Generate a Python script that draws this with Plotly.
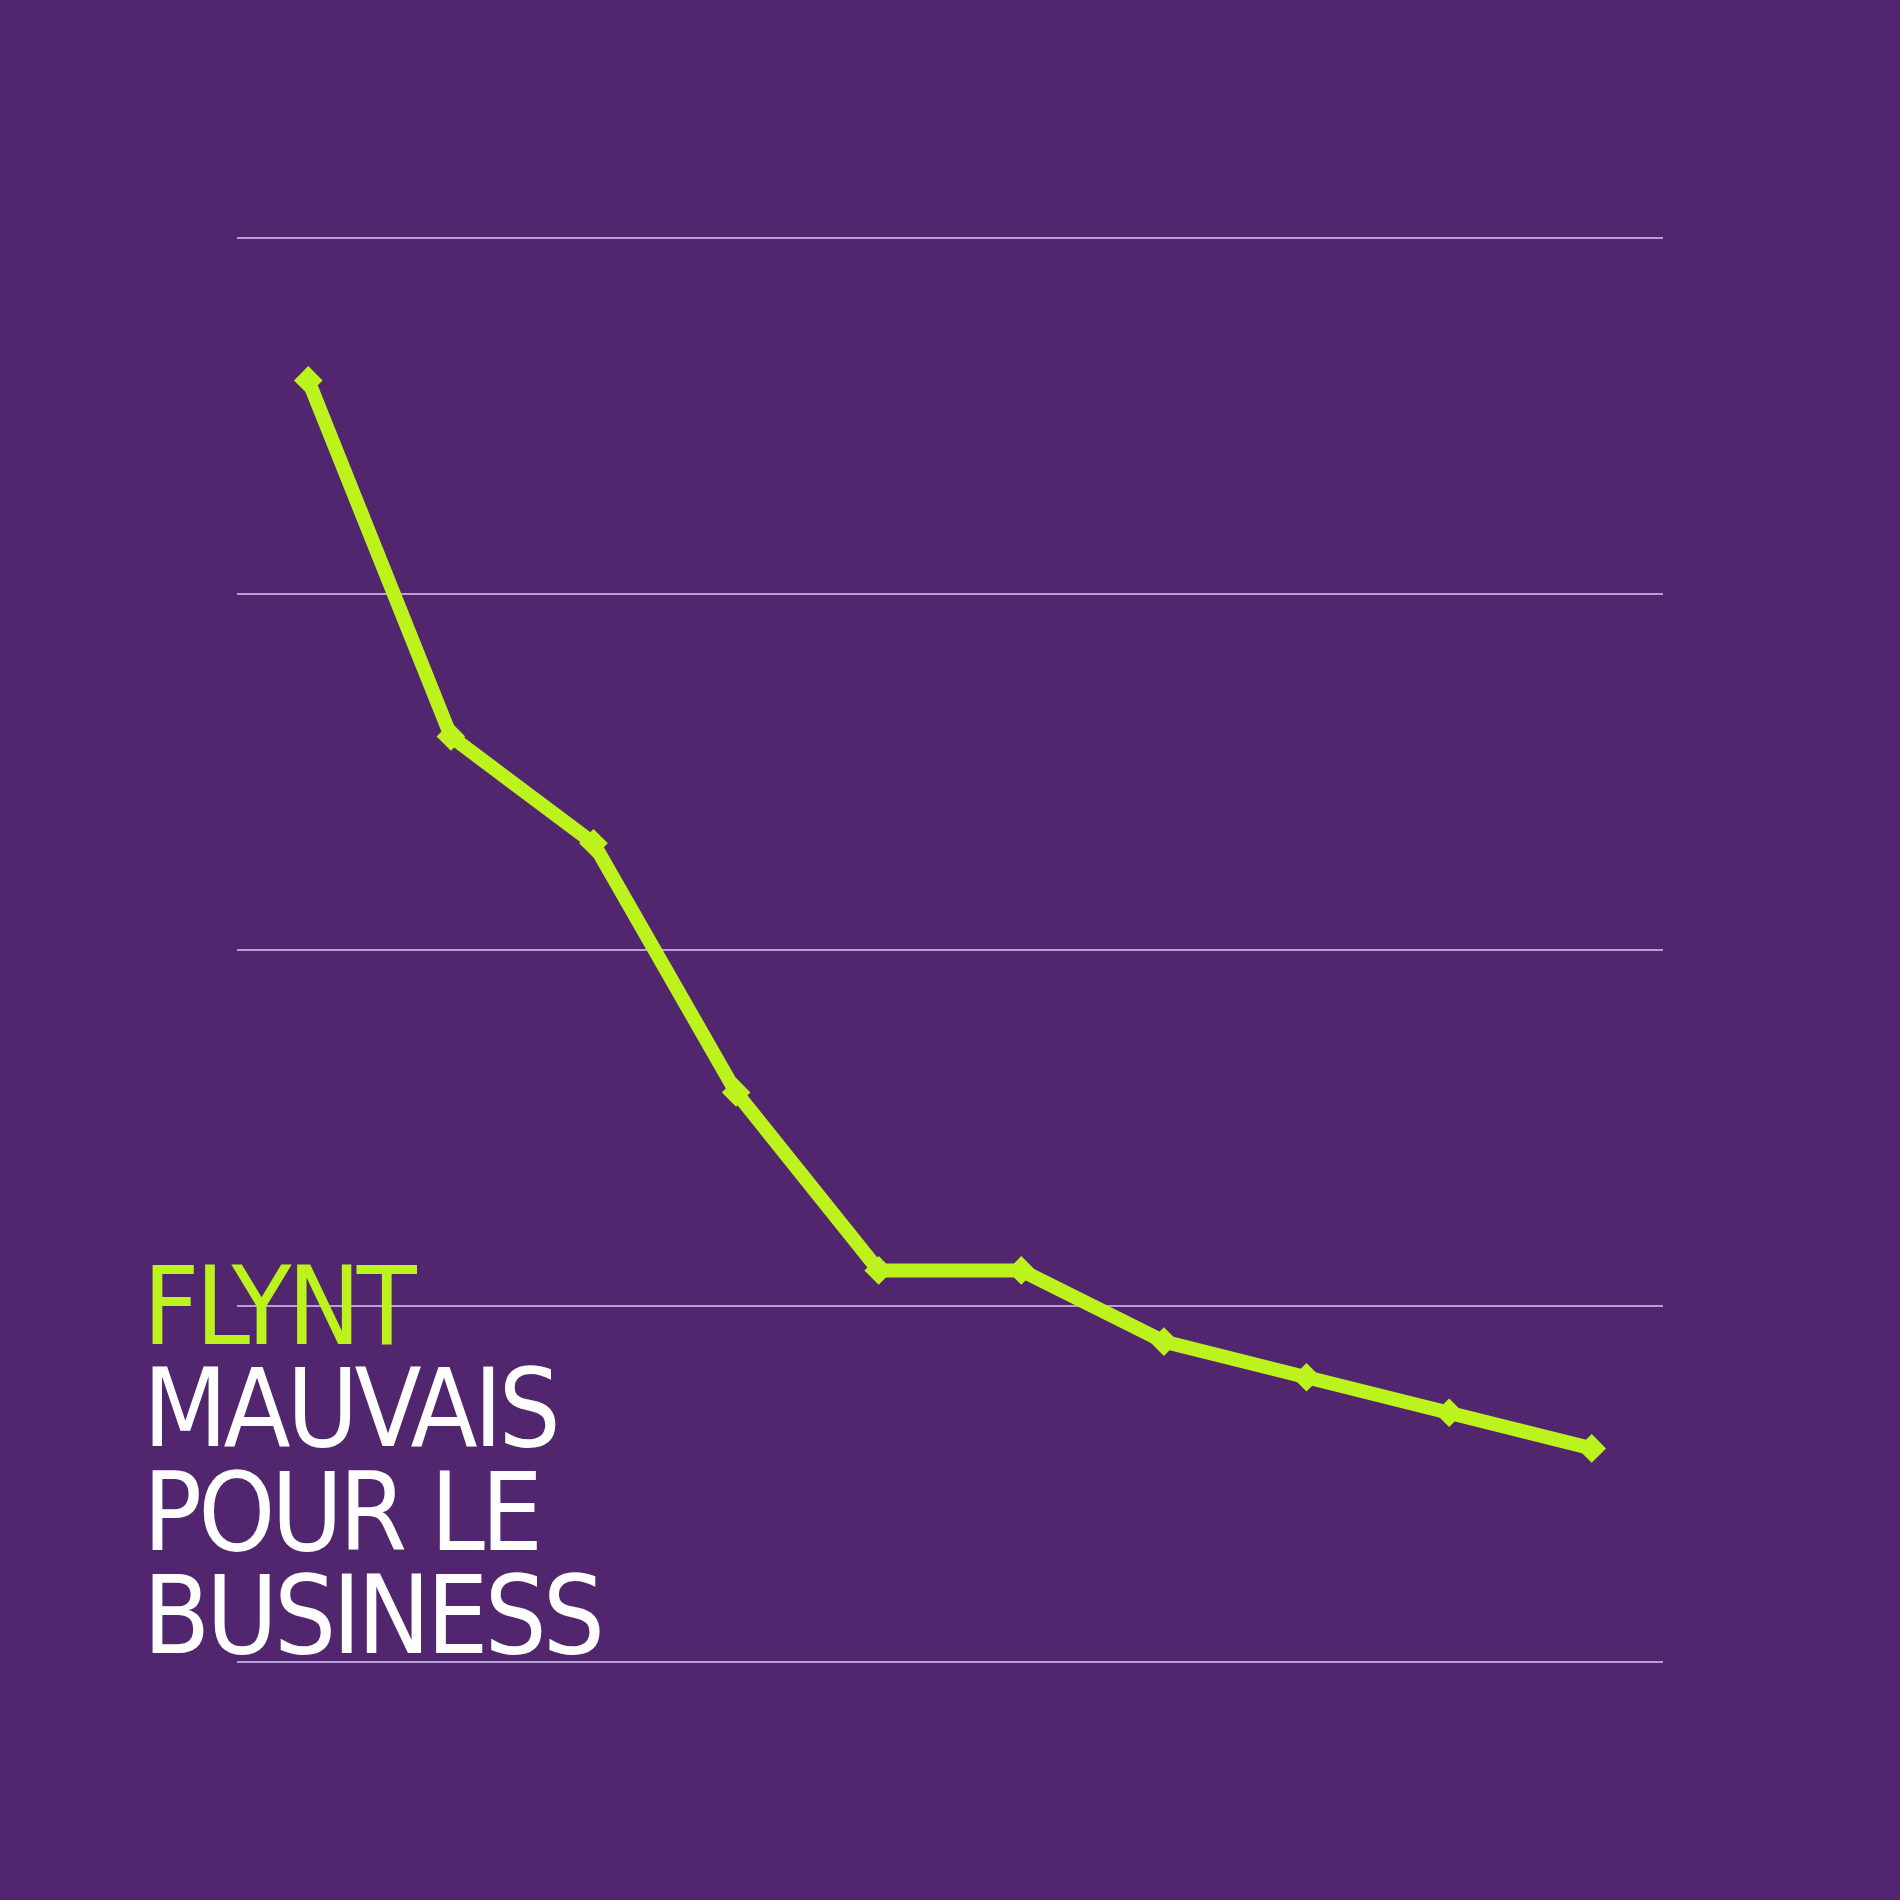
import plotly.graph_objects as go

# data
periods = [1, 2, 3, 4, 5, 6, 7, 8, 9, 10]
values = [90, 65, 57.5, 40, 27.5, 27.5, 22.5, 20, 17.5, 15]
grid_vals = [0, 25, 50, 75, 100]

title_lines = ["FLYNT", "MAUVAIS", "POUR LE", "BUSINESS"]
title_colors = ["#bdf31c", "#ffffff", "#ffffff", "#ffffff"]

BG = "#52266e"
LIME = "#bdf31c"
GRID = "rgba(205,180,235,0.85)"
FONT = "DejaVu Sans Condensed, Liberation Sans Narrow, sans-serif"

fig = go.Figure()
fig.add_trace(go.Scatter(
    x=periods, y=values, mode="lines+markers",
    line=dict(color=LIME, width=14),
    marker=dict(symbol="diamond", size=22, color=LIME),
    showlegend=False, hoverinfo="skip",
))

W = H = 1900
L, R = 237, 237
T, B = 234, 234
ph = H - T - B
pad = 0.28  # small data padding so the 0 and 100 grid lines are kept

def paper_y(py):
    return (H - B - py) / ph

centres = [1306, 1408, 1512, 1615]
for txt, col, cy in zip(title_lines, title_colors, centres):
    fig.add_annotation(
        text='<span style="letter-spacing:-4px">' + txt + '</span>',
        xref="paper", yref="paper",
        x=(141 - L) / (W - L - R), y=paper_y(cy),
        xanchor="left", yanchor="middle", valign="middle",
        height=100, showarrow=False,
        font=dict(family=FONT, size=109, color=col),
    )

fig.update_layout(
    width=W, height=H,
    margin=dict(l=L, r=R, t=T, b=B, pad=0),
    paper_bgcolor=BG, plot_bgcolor=BG,
    xaxis=dict(range=[0.5, 10.5], showgrid=False, zeroline=False,
               showticklabels=False, ticks="", showline=False),
    yaxis=dict(range=[-pad, 100 + pad], tickvals=grid_vals, showgrid=True,
               gridcolor=GRID, gridwidth=1.5, zeroline=False,
               showticklabels=False, ticks="", showline=False),
)

fig.write_html("out.html", config={"displayModeBar": False},
               post_script="document.body.style.margin='0';")
